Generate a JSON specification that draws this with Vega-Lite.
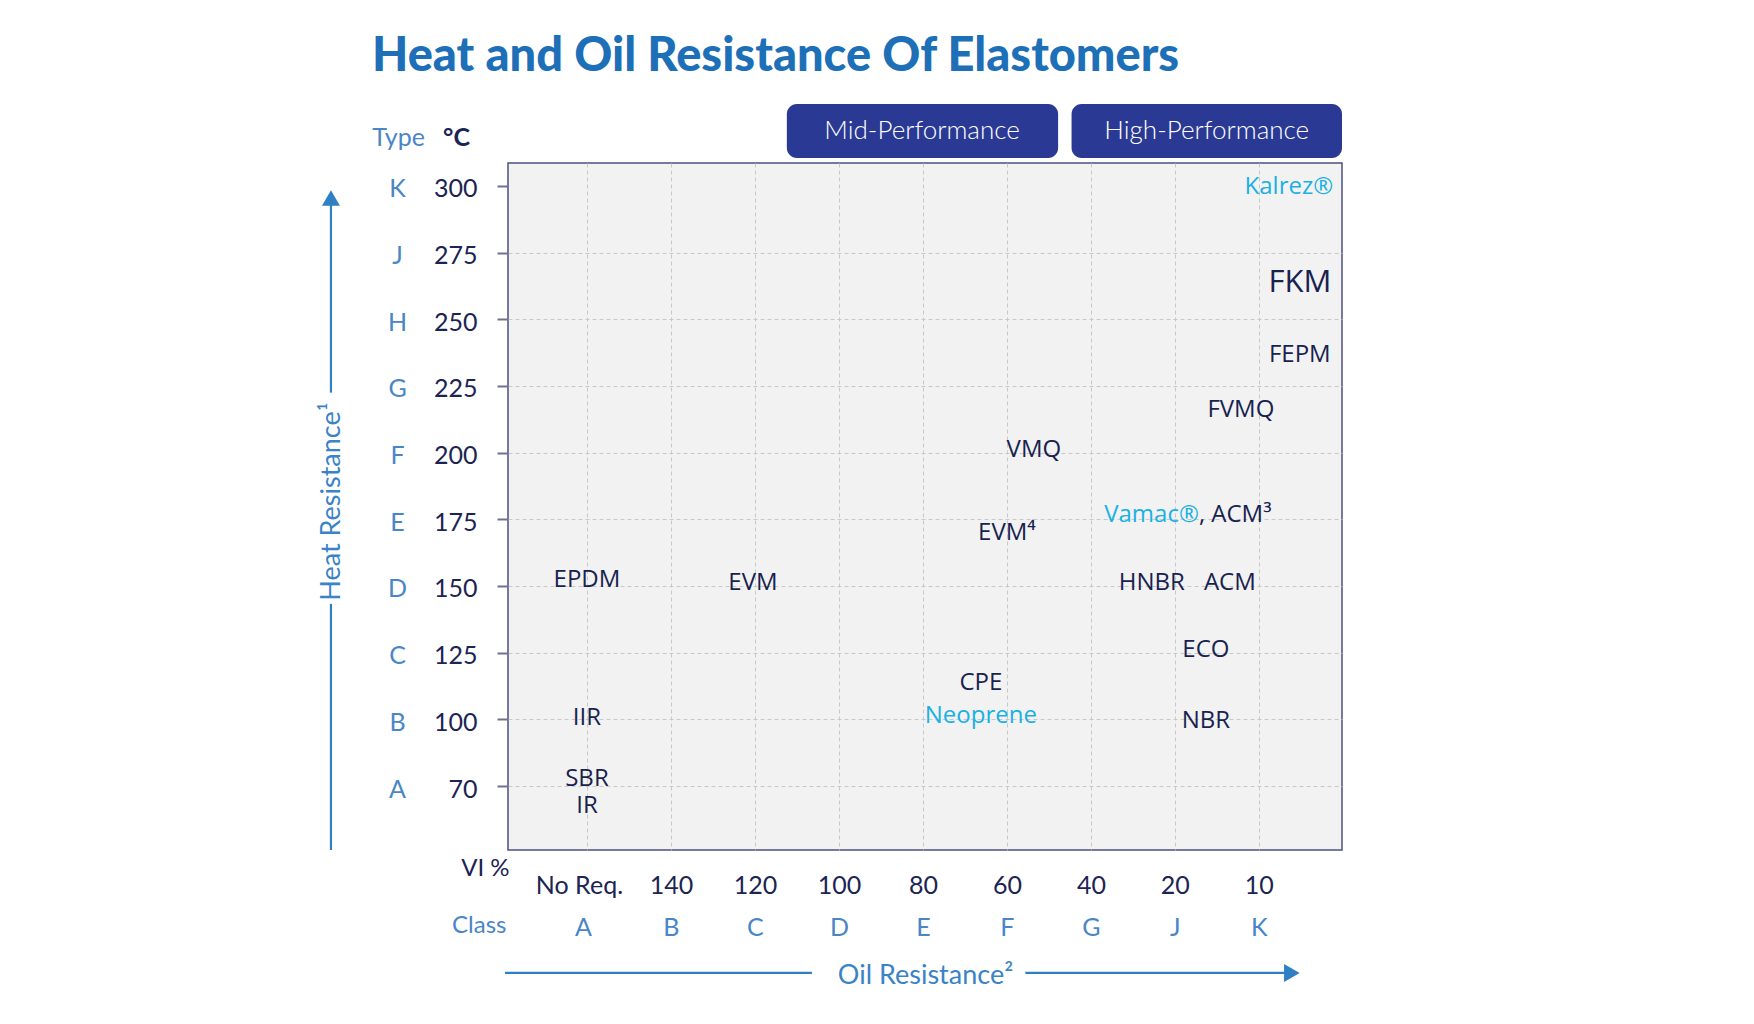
{
  "$schema": "https://vega.github.io/schema/vega-lite/v6.json",
  "width": 834,
  "height": 687,
  "autosize": {"type": "none"},
  "padding": {"left": 508, "top": 163, "right": 412, "bottom": 174},
  "background": "white",
  "title": {
    "text": "Heat and Oil Resistance Of Elastomers",
    "anchor": "start",
    "frame": "group",
    "dx": -136,
    "offset": 23,
    "font": "Lato",
    "fontSize": 47,
    "fontWeight": 900,
    "color": "#1d6fb8"
  },
  "config": {
    "view": {"fill": "#f2f2f2", "stroke": "#4f4f82", "strokeWidth": 1.5},
    "text": {"font": "Open Sans"}
  },
  "datasets": {
    "materials": [
      {"name": "Kalrez®", "oil": 9.357, "heat": 299.7, "kind": "brand"},
      {"name": "FKM", "oil": 9.488, "heat": 263.6, "kind": "generic"},
      {"name": "FEPM", "oil": 9.488, "heat": 236.6, "kind": "generic"},
      {"name": "FVMQ", "oil": 8.786, "heat": 216.0, "kind": "generic"},
      {"name": "VMQ", "oil": 6.321, "heat": 201.0, "kind": "generic"},
      {"name": "Vamac®", "oil": 8.286, "heat": 176.6, "kind": "brand"},
      {"name": ", ACM³", "oil": 8.286, "heat": 176.6, "kind": "generic"},
      {"name": "EVM⁴", "oil": 6.0, "heat": 169.7, "kind": "generic"},
      {"name": "EPDM", "oil": 1.0, "heat": 152.3, "kind": "generic"},
      {"name": "EVM", "oil": 2.976, "heat": 151.1, "kind": "generic"},
      {"name": "HNBR", "oil": 7.726, "heat": 151.1, "kind": "generic"},
      {"name": "ACM", "oil": 8.655, "heat": 151.1, "kind": "generic"},
      {"name": "ECO", "oil": 8.369, "heat": 126.0, "kind": "generic"},
      {"name": "CPE", "oil": 5.69, "heat": 113.6, "kind": "generic"},
      {"name": "Neoprene", "oil": 5.69, "heat": 101.4, "kind": "brand"},
      {"name": "NBR", "oil": 8.369, "heat": 99.2, "kind": "generic"},
      {"name": "IIR", "oil": 1.0, "heat": 100.5, "kind": "generic"},
      {"name": "SBR", "oil": 1.0, "heat": 73.1, "kind": "generic"},
      {"name": "IR", "oil": 1.0, "heat": 61.0, "kind": "generic"}
    ],
    "tiers": [
      {"tier": "Mid-Performance", "from": 3.38, "to": 6.61, "mid": 4.99},
      {"tier": "High-Performance", "from": 6.77, "to": 9.99, "mid": 8.38}
    ]
  },
  "layer": [
    {
      "data": {"name": "materials"},
      "transform": [{"filter": "datum.name !== 'Vamac®' && datum.name !== ', ACM³'"}],
      "mark": {"type": "text", "font": "Open Sans", "fontSize": 24, "align": "center", "baseline": "middle", "clip": false},
      "encoding": {
        "x": {
          "field": "oil", "type": "quantitative",
          "scale": {"domain": [0.06, 9.99], "nice": false, "zero": false},
          "axis": {
            "orient": "bottom",
            "values": [1, 2, 3, 4, 5, 6, 7, 8, 9],
            "labelExpr": "['No Req.','140','120','100','80','60','40','20','10'][datum.value-1]",
            "labelFont": "Lato", "labelFontSize": 25, "labelColor": "#1c2453",
            "labelPadding": 35, "labelBaseline": "middle", "labelFlush": false, "labelOverlap": false,
            "labelOffset": {"condition": {"test": "datum.value === 1", "value": -8}, "value": 0},
            "ticks": false, "tickSize": 0, "domain": false,
            "grid": true, "gridDash": [4, 3], "gridColor": "#c8c8c8", "gridWidth": 1,
            "title": "VI %", "titleX": 1, "titleY": 18, "titleAlign": "right", "titleBaseline": "middle",
            "titleFont": "Lato", "titleFontSize": 24, "titleFontWeight": "normal", "titleColor": "#1c2453"
          }
        },
        "y": {
          "field": "heat", "type": "quantitative",
          "scale": {"domain": [41, 70, 100, 308.6], "range": [687, 623, 556.3, 0], "nice": false, "zero": false},
          "axis": {
            "orient": "left",
            "values": [70, 100, 125, 150, 175, 200, 225, 250, 275, 300],
            "format": "d",
            "labelFont": "Lato", "labelFontSize": 25, "labelColor": "#1c2453",
            "labelPadding": 20, "labelFlush": false, "labelOverlap": false, "labelOffset": 3,
            "tickSize": 11, "tickColor": "#70708f", "tickWidth": 2, "domain": false,
            "grid": true, "gridDash": [4, 3], "gridColor": "#c8c8c8", "gridWidth": 1,
            "gridOpacity": {"condition": {"test": "datum.value === 300", "value": 0}, "value": 1},
            "title": "°C", "titleAngle": 0, "titleX": -52, "titleY": -26, "titleAlign": "center", "titleBaseline": "middle",
            "titleFont": "Lato", "titleFontSize": 25, "titleFontWeight": "bold", "titleColor": "#1c2453"
          }
        },
        "text": {"field": "name"},
        "color": {"field": "kind", "type": "nominal", "scale": {"domain": ["generic", "brand"], "range": ["#18224f", "#1bb1e3"]}, "legend": null},
        "size": {"condition": {"test": "datum.name === 'FKM'", "value": 31}, "value": 24}
      }
    },
    {
      "data": {"name": "materials"},
      "transform": [{"filter": "datum.name === 'Vamac®'"}],
      "mark": {"type": "text", "font": "Open Sans", "fontSize": 24, "align": "right", "baseline": "middle", "clip": false},
      "encoding": {
        "x": {
          "field": "oil", "type": "quantitative",
          "axis": {
            "orient": "bottom",
            "values": [1, 2, 3, 4, 5, 6, 7, 8, 9],
            "labelExpr": "['A','B','C','D','E','F','G','J','K'][datum.value-1]",
            "labelFont": "Lato", "labelFontSize": 25, "labelColor": "#4a86c6",
            "labelPadding": 77, "labelBaseline": "middle", "labelFlush": false, "labelOverlap": false,
            "labelOffset": {"condition": {"test": "datum.value === 1", "value": -4}, "value": 0},
            "ticks": false, "tickSize": 0, "domain": false, "grid": false,
            "title": "Class", "titleX": -2, "titleY": 75, "titleAlign": "right", "titleBaseline": "middle",
            "titleFont": "Lato", "titleFontSize": 24, "titleFontWeight": "normal", "titleColor": "#4a86c6"
          }
        },
        "y": {
          "field": "heat", "type": "quantitative",
          "axis": {
            "orient": "left",
            "values": [70, 100, 125, 150, 175, 200, 225, 250, 275, 300],
            "labelExpr": "datum.value==70?'A':datum.value==100?'B':datum.value==125?'C':datum.value==150?'D':datum.value==175?'E':datum.value==200?'F':datum.value==225?'G':datum.value==250?'H':datum.value==275?'J':'K'",
            "labelFont": "Lato", "labelFontSize": 25, "labelColor": "#4a86c6",
            "labelAlign": "center", "labelPadding": 111, "labelFlush": false, "labelOverlap": false, "labelOffset": 3,
            "ticks": false, "tickSize": 0, "domain": false, "grid": false,
            "title": "Type", "titleAngle": 0, "titleX": -110, "titleY": -26, "titleAlign": "center", "titleBaseline": "middle",
            "titleFont": "Lato", "titleFontSize": 25, "titleFontWeight": "normal", "titleColor": "#4a86c6"
          }
        },
        "text": {"field": "name"},
        "color": {"field": "kind", "type": "nominal", "legend": null}
      }
    },
    {
      "data": {"name": "materials"},
      "transform": [{"filter": "datum.name === ', ACM³'"}],
      "mark": {"type": "text", "font": "Open Sans", "fontSize": 24, "align": "left", "baseline": "middle", "clip": false},
      "encoding": {
        "x": {
          "field": "oil", "type": "quantitative",
          "axis": {
            "orient": "bottom",
            "labels": false, "ticks": false, "domain": false, "grid": false,
            "title": "Oil Resistance²", "titleX": 417, "titleY": 125, "titleAlign": "center", "titleBaseline": "middle",
            "titleFont": "Lato", "titleFontSize": 27, "titleFontWeight": "normal", "titleColor": "#3a83c6"
          }
        },
        "y": {
          "field": "heat", "type": "quantitative",
          "axis": {
            "orient": "left",
            "labels": false, "ticks": false, "domain": false, "grid": false,
            "title": "Heat Resistance¹", "titleAngle": -90, "titleX": -177, "titleY": 338, "titleAlign": "center", "titleBaseline": "middle",
            "titleFont": "Lato", "titleFontSize": 27, "titleFontWeight": "normal", "titleColor": "#3a83c6"
          }
        },
        "text": {"field": "name"},
        "color": {"field": "kind", "type": "nominal", "legend": null}
      }
    },
    {
      "data": {"values": [{}]},
      "mark": {"type": "rule", "color": "#2f7fc4", "strokeWidth": 2.2, "clip": false},
      "encoding": {
        "x": {"datum": -2.048, "type": "quantitative", "axis": null},
        "y": {"datum": 41, "type": "quantitative", "axis": null},
        "y2": {"datum": 143.3}
      }
    },
    {
      "data": {"values": [{}]},
      "mark": {"type": "rule", "color": "#2f7fc4", "strokeWidth": 2.2, "clip": false},
      "encoding": {
        "x": {"datum": -2.048, "type": "quantitative", "axis": null},
        "y": {"datum": 222.5, "type": "quantitative", "axis": null},
        "y2": {"datum": 293.5}
      }
    },
    {
      "data": {"values": [{}]},
      "mark": {"type": "point", "shape": "triangle-up", "filled": true, "color": "#2f7fc4", "size": 324, "opacity": 1, "clip": false},
      "encoding": {
        "x": {"datum": -2.048, "type": "quantitative", "axis": null},
        "y": {"datum": 295.5, "type": "quantitative", "axis": null}
      }
    },
    {
      "data": {"values": [{}]},
      "mark": {"type": "rule", "color": "#2f7fc4", "strokeWidth": 2.2, "clip": false},
      "encoding": {
        "x": {"datum": 0.024, "type": "quantitative", "axis": null},
        "x2": {"datum": 3.679},
        "y": {"datum": -14.7, "type": "quantitative", "axis": null}
      }
    },
    {
      "data": {"values": [{}]},
      "mark": {"type": "rule", "color": "#2f7fc4", "strokeWidth": 2.2, "clip": false},
      "encoding": {
        "x": {"datum": 6.22, "type": "quantitative", "axis": null},
        "x2": {"datum": 9.33},
        "y": {"datum": -14.7, "type": "quantitative", "axis": null}
      }
    },
    {
      "data": {"values": [{}]},
      "mark": {"type": "point", "shape": "triangle-right", "filled": true, "color": "#2f7fc4", "size": 324, "opacity": 1, "clip": false},
      "encoding": {
        "x": {"datum": 9.393, "type": "quantitative", "axis": null},
        "y": {"datum": -14.7, "type": "quantitative", "axis": null}
      }
    },
    {
      "data": {"name": "tiers"},
      "mark": {"type": "rect", "color": "#2a3a94", "cornerRadius": 10, "clip": false},
      "encoding": {
        "x": {"field": "from", "type": "quantitative", "axis": null},
        "x2": {"field": "to"},
        "y": {"datum": 330.7, "type": "quantitative", "axis": null},
        "y2": {"datum": 310.5}
      }
    },
    {
      "data": {"name": "tiers"},
      "mark": {"type": "text", "font": "Lato", "fontWeight": 300, "fontSize": 26, "color": "white", "align": "center", "baseline": "middle", "clip": false},
      "encoding": {
        "x": {"field": "mid", "type": "quantitative", "axis": null},
        "y": {"datum": 320.6, "type": "quantitative", "axis": null},
        "text": {"field": "tier"}
      }
    }
  ],
  "resolve": {"axis": {"x": "independent", "y": "independent"}}
}
